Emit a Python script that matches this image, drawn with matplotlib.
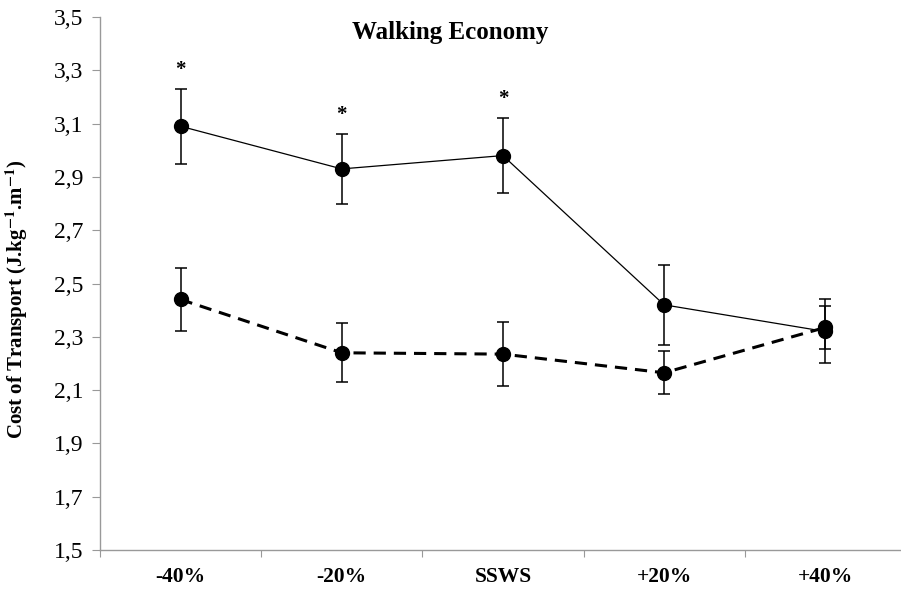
import numpy as np
import matplotlib
matplotlib.use("Agg")
import matplotlib.pyplot as plt

# Walking economy per speed condition
speeds = ["-40%", "-20%", "SSWS", "+20%", "+40%"]
cot_solid = [3.09, 2.93, 2.98, 2.42, 2.32]
err_solid = [0.14, 0.13, 0.14, 0.15, 0.12]
cot_dashed = [2.44, 2.24, 2.235, 2.165, 2.335]
err_dashed = [0.12, 0.11, 0.12, 0.08, 0.08]
stars = [True, True, True, False, False]

plt.rcParams["font.family"] = "Liberation Serif"
plt.rcParams["mathtext.fontset"] = "stix"

fig = plt.figure(figsize=(9.01, 5.90), dpi=100)
ax = fig.add_axes([100 / 901, 40 / 590, 1 - 100 / 901, 533 / 590])

x = np.arange(len(speeds))

ax.errorbar(x, cot_solid, yerr=err_solid, color="black", linewidth=0.9,
            marker="o", markersize=10, capsize=4, elinewidth=1.1,
            capthick=1.1, zorder=3)
ax.errorbar(x, cot_dashed, yerr=err_dashed, color="black", linewidth=2.2,
            linestyle=(0, (4, 2.6)), marker="o", markersize=10, capsize=4,
            elinewidth=1.1, capthick=1.1, zorder=3)

# significance markers above the upper error bar
for xi, yi, ei, s in zip(x, cot_solid, err_solid, stars):
    if s:
        ax.text(xi, yi + ei + 0.035, "*", ha="center", va="bottom",
                fontsize=15, fontweight="bold")

ax.set_ylim(1.5, 3.5)
ax.set_xlim(-0.5, 4.47)
yt = np.arange(1.5, 3.51, 0.2)
ax.set_yticks(yt)
ax.set_yticklabels([f"{v:.1f}".replace(".", ",") for v in yt], fontsize=17)

ax.set_xticks(np.arange(-0.5, 4.5, 1.0))
ax.set_xticklabels([])
ax.set_xticks(x, minor=True)
ax.set_xticklabels(speeds, minor=True, fontsize=15.5, fontweight="bold")
ax.tick_params(axis="x", which="minor", length=0, pad=12)
ax.tick_params(axis="x", which="major", length=5, color="#999999",
               direction="out")
ax.tick_params(axis="y", length=6, color="#999999", pad=6)

for side in ["top", "right"]:
    ax.spines[side].set_visible(False)
for side in ["left", "bottom"]:
    ax.spines[side].set_color("#999999")
    ax.spines[side].set_linewidth(1.0)

ax.set_ylabel("Cost of Transport (J.kg$^{\\mathbf{-1}}$.m$^{\\mathbf{-1}}$)",
              fontsize=15, fontweight="bold")
ax.yaxis.set_label_coords(-0.088, 0.47)

fig.text(450 / 901, 1 - 32 / 590, "Walking Economy", ha="center",
         va="center", fontsize=18, fontweight="bold")

fig.savefig("out.png", dpi=100)
